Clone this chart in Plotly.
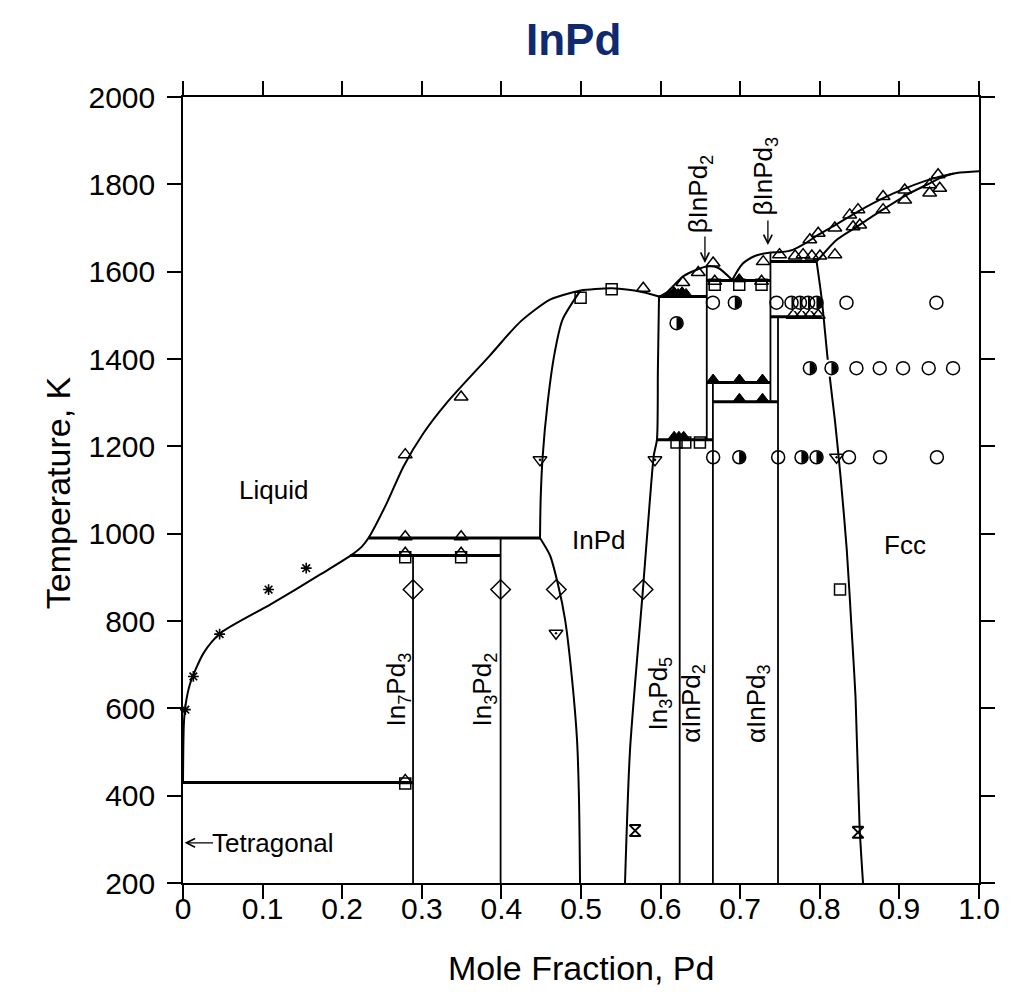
import plotly.graph_objects as go

# ---------------- data (mole fraction Pd, temperature K) ----------------
liq_left_x = [0.0, 0.001, 0.003, 0.009, 0.026, 0.047, 0.11, 0.172, 0.21, 0.225, 0.233, 0.256, 0.277,
              0.302, 0.331, 0.386, 0.4236, 0.461, 0.49, 0.4995, 0.539, 0.578, 0.598]
liq_left_T = [430, 560, 605, 657, 727, 772, 838, 906, 949, 971, 990, 1070, 1154,
              1230, 1299, 1409, 1485, 1536, 1553, 1557, 1562, 1553, 1543]

liq_b2_x = [0.598, 0.608, 0.628, 0.646, 0.658, 0.672, 0.69]
liq_b2_T = [1543, 1553, 1589, 1605, 1612, 1609, 1581]

liq_right_x = [0.69, 0.703, 0.72, 0.738, 0.752, 0.766, 0.781, 0.796, 0.816, 0.85, 0.879, 0.909, 0.942, 0.972, 1.0]
liq_right_T = [1581, 1618, 1637, 1644, 1645, 1650, 1664, 1682, 1703, 1740, 1768, 1792, 1813, 1826, 1830]

sol_fcc_x = [0.796, 0.8213, 0.8464, 0.8791, 0.9092, 0.9343, 0.9544, 0.968]
sol_fcc_T = [1623, 1673, 1703, 1742, 1776, 1799, 1817, 1825]

fcc_solvus_x = [0.796, 0.8025, 0.810, 0.8189, 0.8264, 0.8339, 0.840, 0.845, 0.850, 0.8543]
fcc_solvus_T = [1623, 1536, 1398, 1261, 1124, 963, 780, 620, 329, 200]

inpd_left_up_x = [0.4995, 0.4768, 0.4669, 0.4581, 0.4518, 0.4493, 0.4485]
inpd_left_up_T = [1557, 1490, 1414, 1300, 1176, 1078, 990]

inpd_left_low_x = [0.4485, 0.4611, 0.4712, 0.480, 0.4888, 0.495, 0.4975, 0.4988]
inpd_left_low_T = [990, 950, 883, 803, 666, 528, 391, 200]

inpd_right_x = [0.5553, 0.5616, 0.5778, 0.5866, 0.5916, 0.5954, 0.5966, 0.598]
inpd_right_T = [200, 505, 872, 1078, 1181, 1215, 1375, 1543]

# invariant (horizontal) lines: temperature, x start, x end
iso_T = [430, 950, 990, 1543, 1215, 1580, 1346, 1302, 1623, 1497]
iso_x0 = [0.0, 0.21, 0.233, 0.598, 0.5954, 0.658, 0.658, 0.6657, 0.738, 0.738]
iso_x1 = [0.289, 0.399, 0.4485, 0.658, 0.6657, 0.738, 0.738, 0.7475, 0.796, 0.8025]

# compound (vertical) lines: x, T bottom, T top
comp_x = [0.289, 0.399, 0.624, 0.658, 0.6657, 0.738, 0.7475]
comp_T0 = [200, 200, 200, 1215, 200, 1302, 200]
comp_T1 = [950, 990, 1215, 1612, 1346, 1644, 1497]

# experimental points
star_x = [0.003, 0.013, 0.046, 0.1075, 0.1548]
star_T = [597, 673, 770, 872, 921]

tri_open_x = [0.2792, 0.2792, 0.3494, 0.2792, 0.3494, 0.3494, 0.2792, 0.5782,
              0.628, 0.6473, 0.666, 0.668, 0.7268, 0.7289,
              0.7494, 0.769, 0.779, 0.79, 0.8002, 0.819,
              0.7875, 0.798, 0.8189, 0.8376, 0.848, 0.8795, 0.9067, 0.938, 0.9486,
              0.8418, 0.8502, 0.8795, 0.9067, 0.938, 0.9507,
              0.7665, 0.777, 0.7875, 0.798]
tri_open_T = [1181, 993, 993, 955, 955, 1313, 435, 1562,
              1575, 1598, 1620, 1578, 1578, 1623,
              1639, 1636, 1639, 1636, 1636, 1639,
              1673, 1688, 1700, 1730, 1742, 1772, 1787, 1799, 1822,
              1703, 1707, 1742, 1764, 1780, 1791,
              1500, 1500, 1500, 1500]

tri_fill_x = [0.612, 0.617, 0.622, 0.627, 0.632, 0.6988, 0.666, 0.699, 0.728, 0.699, 0.728, 0.617, 0.623, 0.629]
tri_fill_T = [1549, 1553, 1549, 1553, 1549, 1583, 1353, 1353, 1353, 1309, 1309, 1222, 1222, 1222]

square_x = [0.4995, 0.5385, 0.2792, 0.3494, 0.2792, 0.668, 0.6988, 0.7268, 0.620, 0.631, 0.6494, 0.8254]
square_T = [1540, 1560, 946, 946, 428, 1570, 1570, 1570, 1209, 1209, 1209, 872]

tri_down_x = [0.4485, 0.5929, 0.4686, 0.821]
tri_down_T = [1169, 1169, 772, 1175]

diamond_x = [0.289, 0.399, 0.469, 0.578]
diamond_T = [872, 872, 872, 872]

circ_open_x = [0.6657, 0.7456, 0.8335, 0.9465,
               0.846, 0.8753, 0.9046, 0.9368, 0.9674,
               0.666, 0.7477, 0.8367, 0.8756, 0.9471]
circ_open_T = [1529, 1529, 1529, 1529,
               1379, 1379, 1379, 1379, 1379,
               1175, 1175, 1175, 1175, 1175]

circ_half_x = [0.6933, 0.7645, 0.775, 0.7853, 0.7959, 0.6201, 0.7875, 0.8147, 0.6988, 0.777, 0.7959]
circ_half_T = [1529, 1529, 1529, 1529, 1529, 1482, 1379, 1379, 1175, 1175, 1175]

hourglass_x = [0.568, 0.848]
hourglass_T = [320, 316]

x_ticks = [0, 0.1, 0.2, 0.3, 0.4, 0.5, 0.6, 0.7, 0.8, 0.9, 1.0]
x_tick_labels = ["0", "0.1", "0.2", "0.3", "0.4", "0.5", "0.6", "0.7", "0.8", "0.9", "1.0"]
y_ticks = [200, 400, 600, 800, 1000, 1200, 1400, 1600, 1800, 2000]

# ---------------- layout geometry ----------------
FIG_W, FIG_H = 1009, 984          # page body adds an 8 px margin
M_L, M_R, M_T, M_B = 175, 38, 89, 109
PLOT_W = FIG_W - M_L - M_R
X_PER_PX = 1.0 / PLOT_W            # data units of x per pixel

# ---------------- figure ----------------
fig = go.Figure()


def add_line(x, y, width=2.0, shape="spline"):
    fig.add_trace(go.Scatter(x=x, y=y, mode="lines",
                             line=dict(color="black", width=width, shape=shape, smoothing=0.7),
                             hoverinfo="skip", showlegend=False))


add_line(liq_left_x, liq_left_T)
add_line(liq_b2_x, liq_b2_T)
add_line(liq_right_x, liq_right_T)
add_line(sol_fcc_x, sol_fcc_T)
add_line(fcc_solvus_x, fcc_solvus_T)
add_line(inpd_left_up_x, inpd_left_up_T)
add_line(inpd_left_low_x, inpd_left_low_T)
add_line(inpd_right_x, inpd_right_T)

for T, a, b in zip(iso_T, iso_x0, iso_x1):
    add_line([a, b], [T, T], width=3.0, shape="linear")
for x, a, b in zip(comp_x, comp_T0, comp_T1):
    add_line([x, x], [a, b], width=1.8, shape="linear")


def add_markers(x, y, symbol, size, lw=1.5, color="black", line_color="black"):
    fig.add_trace(go.Scatter(x=x, y=y, mode="markers", cliponaxis=False,
                             marker=dict(symbol=symbol, size=size, color=color,
                                         line=dict(color=line_color, width=lw)),
                             hoverinfo="skip", showlegend=False))


add_markers(star_x, star_T, "asterisk-open", 9, lw=1.6)
add_markers(square_x, square_T, "square-open", 11)
add_markers(tri_open_x, tri_open_T, "triangle-up-open", 12)
add_markers(tri_fill_x, tri_fill_T, "triangle-up", 11, lw=1)
add_markers(tri_down_x, tri_down_T, "triangle-down-open-dot", 12)
add_markers(diamond_x, diamond_T, "diamond-open", 15)
add_markers(circ_open_x, circ_open_T, "circle-open", 13)
add_markers(hourglass_x, hourglass_T, "hourglass-open", 11, lw=2)

# half-filled circles: black disc, white bar over the left half, outline on top
add_markers(circ_half_x, circ_half_T, "circle", 12, lw=0)
add_markers([v - 3.2 * X_PER_PX for v in circ_half_x], circ_half_T, "line-ns", 12, lw=6.2,
            color="white", line_color="white")
add_markers(circ_half_x, circ_half_T, "circle-open", 13)

FONT = "Liberation Sans, Arial, Helvetica, sans-serif"
lab_font = dict(family=FONT, size=26, color="black")
arrow_style = dict(showarrow=True, arrowhead=5, arrowsize=1.3, arrowwidth=1.3, arrowcolor="black", text="")
annots = [
    dict(x=0.114, y=1100, text="Liquid", showarrow=False, font=lab_font),
    dict(x=0.522, y=986, text="InPd", showarrow=False, font=lab_font),
    dict(x=0.907, y=975, text="Fcc", showarrow=False, font=lab_font),
    dict(x=0.0343, y=292, text="Tetragonal", showarrow=False, font=lab_font, xanchor="left"),
    dict(x=0.002, y=292, ax=30, ay=0, **arrow_style),
    dict(x=0.270, y=643, text="In<sub>7</sub>Pd<sub>3</sub>", textangle=-90, showarrow=False, font=lab_font),
    dict(x=0.378, y=643, text="In<sub>3</sub>Pd<sub>2</sub>", textangle=-90, showarrow=False, font=lab_font),
    dict(x=0.598, y=634, text="In<sub>3</sub>Pd<sub>5</sub>", textangle=-90, showarrow=False, font=lab_font),
    dict(x=0.639, y=612, text="\u03b1InPd<sub>2</sub>", textangle=-90, showarrow=False, font=lab_font),
    dict(x=0.721, y=612, text="\u03b1InPd<sub>3</sub>", textangle=-90, showarrow=False, font=lab_font),
    dict(x=0.650, y=1778, text="\u03b2InPd<sub>2</sub>", textangle=-90, showarrow=False, font=lab_font),
    dict(x=0.6557, y=1620, ax=0, ay=-28, **arrow_style),
    dict(x=0.731, y=1820, text="\u03b2InPd<sub>3</sub>", textangle=-90, showarrow=False, font=lab_font),
    dict(x=0.7348, y=1661, ax=0, ay=-26, **arrow_style),
    dict(xref="paper", yref="paper", x=0.49, y=1.073, xanchor="center", yanchor="middle",
         text="<b>InPd</b>", showarrow=False,
         font=dict(family=FONT, size=44, color="#0f2a6e")),
    dict(xref="paper", yref="paper", x=0.5, y=-0.108, xanchor="center", yanchor="middle",
         text="Mole Fraction, Pd", showarrow=False, font=dict(family=FONT, size=34, color="black")),
    dict(xref="paper", yref="paper", x=-0.156, y=0.497, xanchor="center", yanchor="middle",
         text="Temperature, K", textangle=-90, showarrow=False, font=dict(family=FONT, size=34, color="black")),
]
fig.update_layout(annotations=annots)

axis_common = dict(showline=True, linecolor="black", linewidth=1.5, mirror="ticks", ticks="outside",
                   ticklen=14, tickwidth=1.5, tickcolor="black", showgrid=False, zeroline=False,
                   tickfont=dict(family=FONT, size=30, color="black"))
fig.update_xaxes(range=[0, 1], tickvals=x_ticks, ticktext=x_tick_labels, ticklabelstandoff=-16, **axis_common)
fig.update_yaxes(range=[200, 2000], tickvals=y_ticks, ticklabelstandoff=6, **axis_common)

fig.update_layout(width=FIG_W, height=FIG_H, paper_bgcolor="white", plot_bgcolor="white",
                  margin=dict(l=M_L, r=M_R, t=M_T, b=M_B), showlegend=False)

fig.write_html("out.html")
